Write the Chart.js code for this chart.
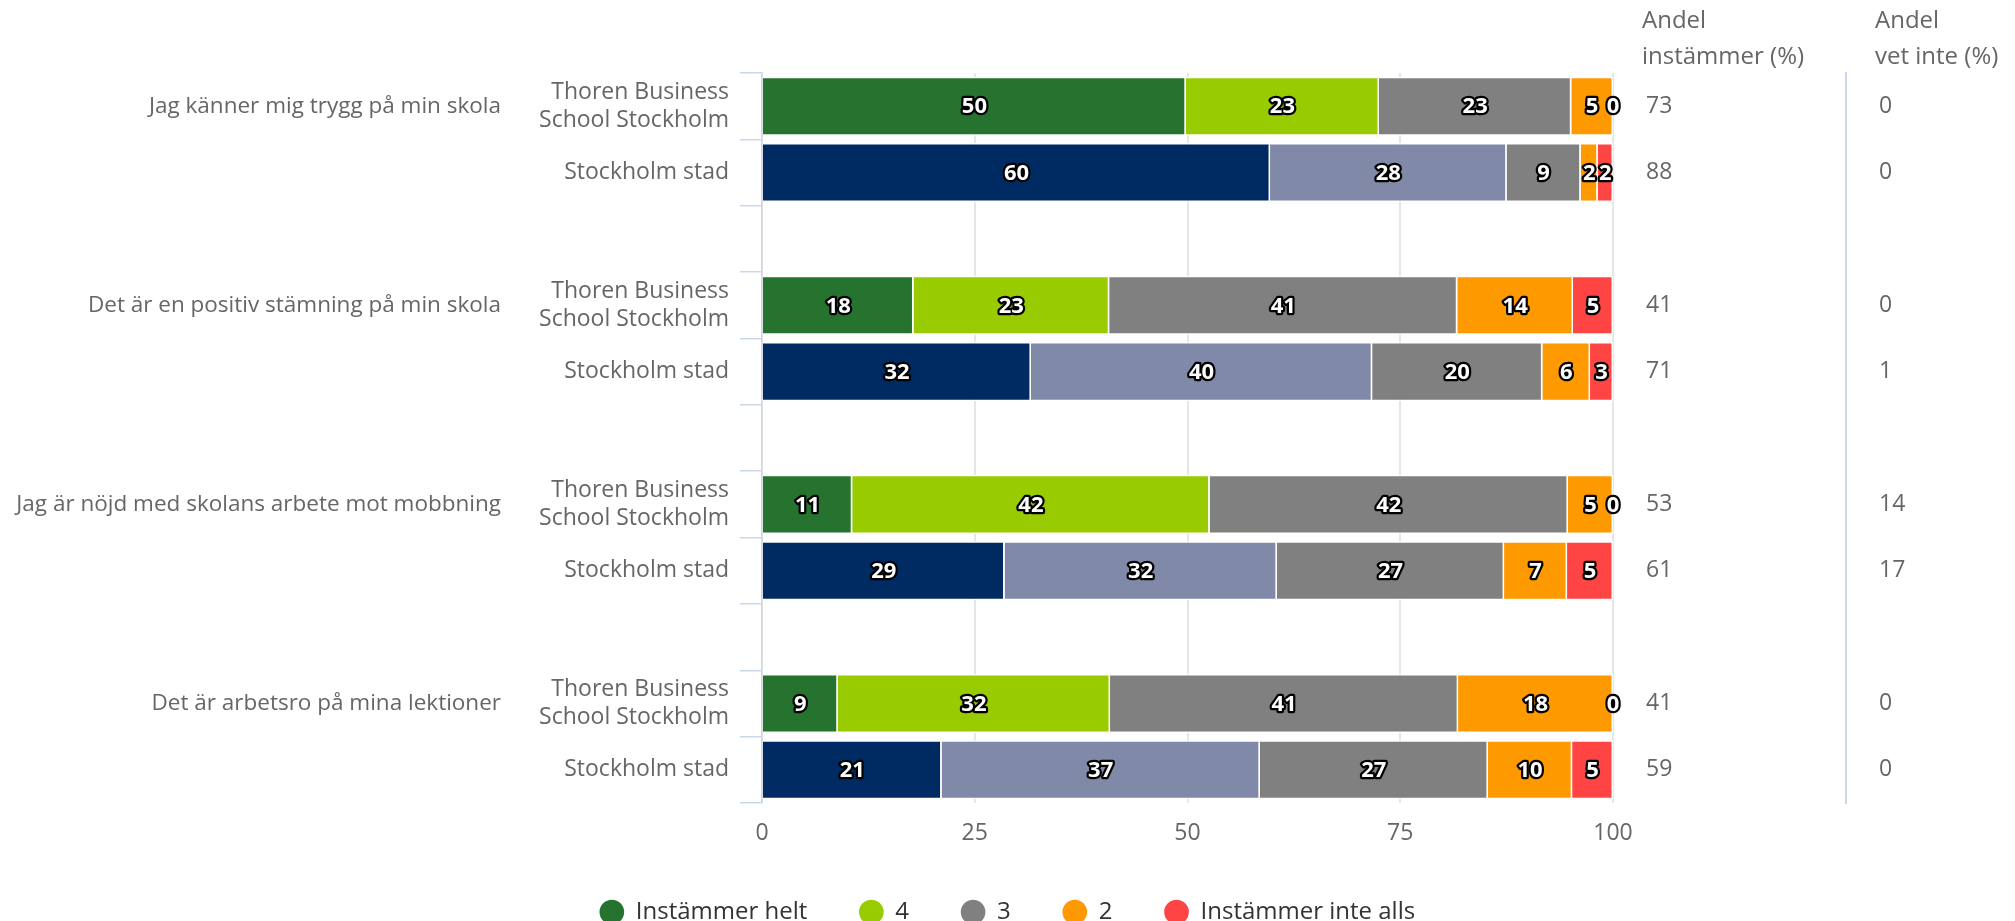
<!DOCTYPE html>
<html>
<head>
<meta charset="utf-8">
<script src="https://cdn.jsdelivr.net/npm/chart.js@4.4.1/dist/chart.umd.min.js"></script>
<style>
    html, body { margin: 0; padding: 0; background: #fff; }
    #wrap { width: 2015px; height: 921px; }
</style>
</head>
<body>
<div id="wrap"><canvas id="chart"></canvas></div>
<script>
// questions and the two groups compared under each of them
const questions = [
    "Jag känner mig trygg på min skola",
    "Det är en positiv stämning på min skola",
    "Jag är nöjd med skolans arbete mot mobbning",
    "Det är arbetsro på mina lektioner"
];
const schools = [["Thoren Business", "School Stockholm"], "Stockholm stad"];
const responses = ["Instämmer helt", "4", "3", "2", "Instämmer inte alls"];

// shares per row: Q1 Thoren, Q1 Stockholm, Q2 Thoren, Q2 Stockholm, ...
const helt     = [49.8, 59.7, 17.8, 31.6, 10.6, 28.5,  8.9, 21.1];
const fyra     = [22.7, 27.8, 23.0, 40.1, 42.0, 32.0, 32.0, 37.4];
const tre      = [22.6,  8.7, 40.9, 20.0, 42.1, 26.7, 40.9, 26.8];
const tva      = [ 4.9,  2.0, 13.6,  5.6,  5.3,  7.4, 18.2,  9.9];
const inteAlls = [ 0.0,  1.8,  4.7,  2.7,  0.0,  5.4,  0.0,  4.8];

const andelInstammer = [73, 88, 41, 71, 53, 61, 41, 59];
const andelVetInte   = [0, 0, 0, 1, 14, 17, 0, 0];

const headers = [["Andel", "instämmer (%)"], ["Andel", "vet inte (%)"]];
const xTicks = [0, 25, 50, 75, 100];

const thorenColors    = ["#267330", "#99cc00", "#808080", "#ff9900", "#ff4444"];
const stockholmColors = ["#002b62", "#8089a8", "#808080", "#ff9900", "#ff4444"];

const FONT = '"Open Sans", sans-serif';
const TEXT = "#666666";

// put an empty row between every pair of rows
function withGaps(arr, gap) {
    const out = [];
    arr.forEach((v, i) => {
        out.push(v);
        if (i % 2 === 1 && i < arr.length - 1) out.push(gap);
    });
    return out;
}

const rowLabels = withGaps(questions.flatMap(() => schools), "");
const questionLabels = withGaps(questions.flatMap(q => [q, ""]), "");
const instLabels = withGaps(andelInstammer.map(String), "");
const vetLabels = withGaps(andelVetInte.map(String), "");

const series = [helt, fyra, tre, tva, inteAlls];

const datasets = series.map((values, k) => ({
    label: responses[k],
    data: withGaps(values, null),
    backgroundColor: withGaps(values.map((v, i) => i % 2 === 0 ? thorenColors[k] : stockholmColors[k]), null),
    borderColor: "#ffffff",
    borderWidth: 1.5,
    barPercentage: 0.89,
    categoryPercentage: 1.0
}));

// numbers inside the bars, white with dark outline
const barLabels = {
    id: "barLabels",
    afterDatasetsDraw(chart) {
        const ctx = chart.ctx;
        ctx.save();
        ctx.font = "bold 22px " + FONT;
        ctx.textAlign = "center";
        ctx.textBaseline = "middle";
        ctx.lineJoin = "round";
        ctx.lineWidth = 4.5;
        ctx.strokeStyle = "#000";
        ctx.fillStyle = "#fff";
        chart.data.datasets.forEach((ds, i) => {
            chart.getDatasetMeta(i).data.forEach((bar, j) => {
                const v = ds.data[j];
                if (v === null || v === undefined) return;
                const t = String(Math.round(v));
                const x = (bar.x + bar.base) / 2;
                ctx.strokeText(t, x, bar.y + 1);
                ctx.fillText(t, x, bar.y + 1);
            });
        });
        ctx.restore();
    }
};

// column headers above the two right-hand columns
const columnHeaders = {
    id: "columnHeaders",
    afterDraw(chart) {
        const ctx = chart.ctx;
        ctx.save();
        ctx.font = "24px " + FONT;
        ctx.fillStyle = TEXT;
        ctx.textAlign = "left";
        ctx.textBaseline = "middle";
        [chart.scales.y2, chart.scales.y3].forEach((scale, i) => {
            ctx.fillText(headers[i][0], scale.left + 29, 21);
            ctx.fillText(headers[i][1], scale.left + 29, 57);
        });
        ctx.restore();
    }
};

const tickFont = { family: FONT, size: 23 };

new Chart(document.getElementById("chart"), {
    type: "bar",
    data: { labels: rowLabels, datasets: datasets },
    plugins: [barLabels, columnHeaders],
    options: {
        indexAxis: "y",
        responsive: true,
        maintainAspectRatio: false,
        animation: false,
        layout: { padding: { top: 73, bottom: -13, left: 0, right: 0 } },
        plugins: {
            tooltip: { enabled: false },
            legend: {
                position: "bottom",
                labels: {
                    usePointStyle: true,
                    pointStyle: "circle",
                    boxWidth: 24,
                    boxHeight: 18.5,
                    padding: 52,
                    color: "#333333",
                    font: { family: FONT, size: 24 }
                }
            }
        },
        scales: {
            x: {
                stacked: true,
                min: 0,
                max: 100,
                afterBuildTicks(scale) {
                    scale.ticks = xTicks.map(v => ({ value: v }));
                },
                afterFit(scale) { scale.height = 45; },
                grid: { color: "#e6e6e6", lineWidth: 2, drawTicks: false },
                border: { display: false },
                ticks: { color: TEXT, font: tickFont, padding: 17 }
            },
            y: {
                type: "category",
                stacked: true,
                offset: true,
                position: "left",
                weight: 0,
                labels: rowLabels,
                grid: { offset: true, drawOnChartArea: false, color: "#ccd6eb", lineWidth: 1.5, tickLength: 22 },
                border: { color: "#ccd6eb", width: 1.5 },
                ticks: { autoSkip: false, color: TEXT, font: tickFont, padding: 11, lineHeight: 1.45 },
                afterFit(scale) { scale.width = 242; }
            },
            yq: {
                type: "category",
                offset: true,
                position: "left",
                weight: 1,
                labels: questionLabels,
                grid: { display: false, drawTicks: false },
                border: { display: false },
                ticks: { autoSkip: false, color: TEXT, font: { family: FONT, size: 22.5 }, padding: 19 },
                afterFit(scale) { scale.width = 520; }
            },
            y2: {
                type: "category",
                offset: true,
                position: "right",
                weight: 0,
                labels: instLabels,
                grid: { display: false, drawTicks: false },
                border: { display: false },
                ticks: { autoSkip: false, color: TEXT, font: tickFont, padding: 33 },
                afterFit(scale) { scale.width = 233; }
            },
            y3: {
                type: "category",
                offset: true,
                position: "right",
                weight: 1,
                labels: vetLabels,
                grid: { drawOnChartArea: false, drawTicks: false, color: "rgba(0,0,0,0)" },
                border: { display: true, color: "#ccd6eb", width: 2 },
                ticks: { autoSkip: false, color: TEXT, font: tickFont, padding: 33 },
                afterFit(scale) { scale.width = 169; }
            }
        }
    }
});
</script>
</body>
</html>
